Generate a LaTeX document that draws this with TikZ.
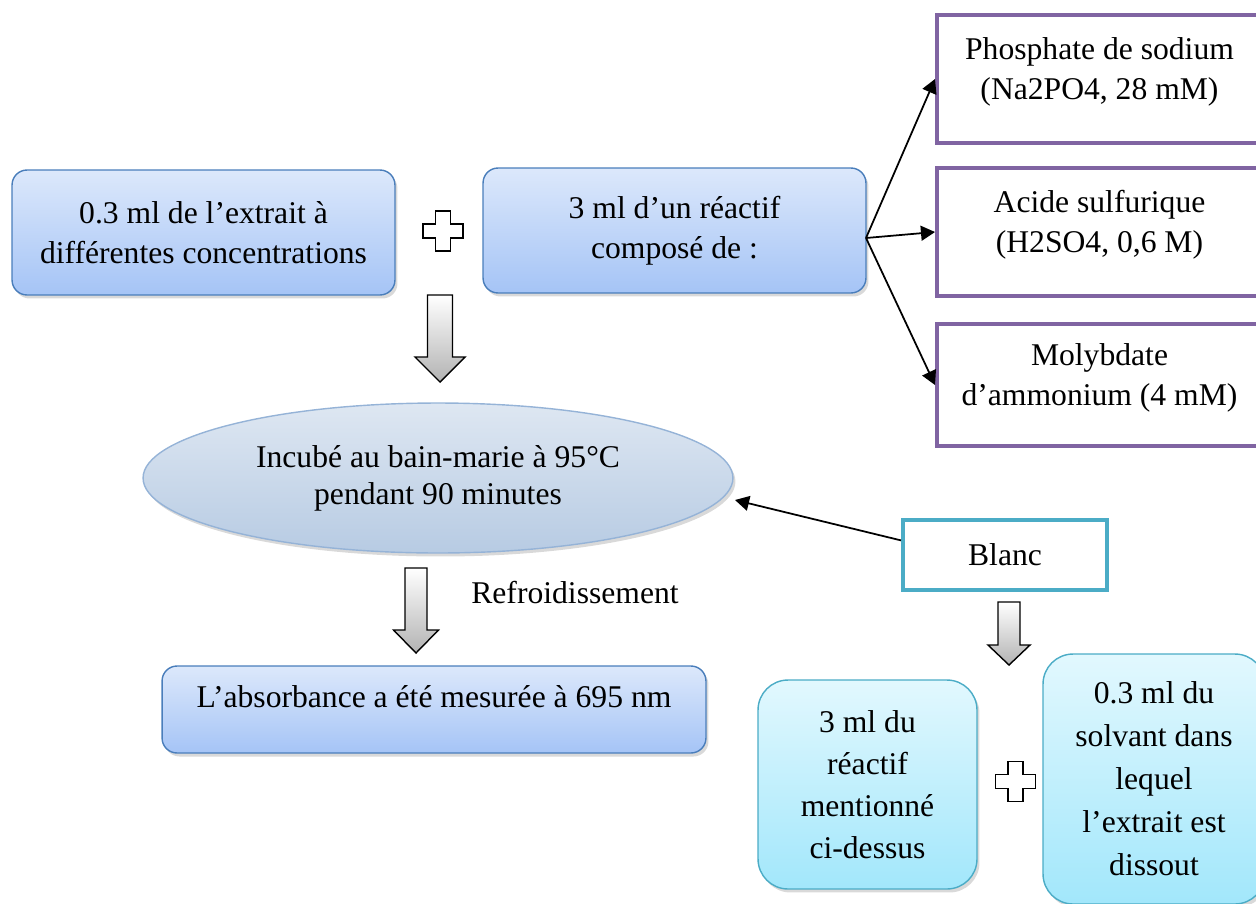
\documentclass[tikz,border=0pt]{standalone}
\usepackage{fontspec}
\setmainfont{Liberation Serif}
\usetikzlibrary{shapes.geometric,shadows,arrows.meta}
\definecolor{boxline}{HTML}{4A7EBB}
\definecolor{boxtop}{HTML}{DCE8FB}
\definecolor{boxbot}{HTML}{A5C4F6}
\definecolor{reactline}{HTML}{8064A2}
\definecolor{tealline}{HTML}{4BACC6}
\definecolor{cyantop}{HTML}{E2F8FE}
\definecolor{cyanbot}{HTML}{A2E7FB}
\definecolor{ovaltop}{HTML}{DEE7F2}
\definecolor{ovalbot}{HTML}{B7CBE3}
\definecolor{ovalline}{HTML}{95B3D7}
\tikzset{
  stepfont/.style={font=\fontsize{18}{23}\selectfont, align=center},
  softshadow/.style={drop shadow={shadow xshift=0.05cm, shadow yshift=-0.07cm, opacity=0.3}},
  bluebox/.style={stepfont, rectangle, rounded corners=0.3cm, draw=boxline, line width=0.8pt,
    top color=boxtop, bottom color=boxbot, softshadow},
  reactbox/.style={stepfont, rectangle, draw=reactline, line width=2.3pt, fill=white},
  tealbox/.style={stepfont, rectangle, draw=tealline, line width=2.3pt, fill=white},
  cyanbox/.style={stepfont, rectangle, rounded corners=0.6cm, draw=tealline, line width=0.8pt,
    top color=cyantop, bottom color=cyanbot, softshadow},
  ovalbox/.style={stepfont, ellipse, draw=ovalline, line width=0.8pt,
    top color=ovaltop, bottom color=ovalbot, softshadow},
  conn/.style={-{Triangle[length=8pt,width=8.5pt]}, line width=1pt},
}
\begin{document}
\begin{tikzpicture}[x=0.02cm,y=-0.02cm]
\useasboundingbox (0,0) rectangle (1256,903);
% first step
\node[bluebox, minimum width=7.66cm, minimum height=2.5cm] (extrait) at (203.5,232.5) {0.3 ml de l’extrait à\\différentes concentrations};
\node[bluebox, minimum width=7.66cm, minimum height=2.5cm] (reactif) at (674.5,230.5) {3 ml d’un réactif\\composé de :};
% reagent parts
\node[reactbox, minimum width=6.5cm, minimum height=2.56cm, text depth=12pt] (phos) at (1099.5,79) {Phosphate de sodium\\(Na2PO4, 28 mM)};
\node[reactbox, minimum width=6.5cm, minimum height=2.56cm, text depth=12pt] (acide) at (1099.5,232) {Acide sulfurique\\(H2SO4, 0,6 M)};
\node[reactbox, minimum width=6.5cm, minimum height=2.44cm, text depth=12pt] (molyb) at (1099.5,385) {Molybdate\\d’ammonium (4 mM)};
\coordinate (fork) at (866,238);
\draw[conn] (fork) -- (phos.west);
\draw[conn] (fork) -- (acide.west);
\draw[conn] (fork) -- (molyb.west);
% incubation and reading
\node[ovalbox, minimum width=11.8cm, minimum height=3cm, font=\fontsize{18}{21}\selectfont] (incub) at (438,478) {Incubé au bain-marie à 95°C\\pendant 90 minutes};
\node[stepfont, anchor=west, inner sep=0pt] (refroid) at (471,593) {Refroidissement};
\node[bluebox, minimum width=10.88cm, minimum height=1.74cm, text depth=15pt] (absorb) at (434,709.5) {L’absorbance a été mesurée à 695 nm};
% blank
\node[tealbox, minimum width=4.08cm, minimum height=1.4cm] (blanc) at (1005,555) {Blanc};
\coordinate (blancend) at (735,500);
\draw[conn] (blanc.172) -- (blancend);
\node[cyanbox, minimum width=4.38cm, minimum height=4.18cm, font=\fontsize{18}{24}\selectfont] (reactifbis) at (867.5,784.5) {3 ml du\\réactif\\mentionné\\ci-dessus};
\node[cyanbox, minimum width=4.44cm, minimum height=5cm, font=\fontsize{18}{24.5}\selectfont] (solvant) at (1154,779) {0.3 ml du\\solvant dans\\lequel\\l’extrait est\\dissout};
% hollow arrows
\foreach \x/\t/\n/\e/\s/\h in {440/295/357/382/12.5/25, 416/568/630/653/11/22.5, 1009/602/645/665/11/21}
  \shade[top color=white, bottom color=gray!60, draw=black, line width=0.8pt]
    ({\x-\s},\t) -- ({\x+\s},\t) -- ({\x+\s},\n) -- ({\x+\h},\n) -- (\x,\e)
    -- ({\x-\h},\n) -- ({\x-\s},\n) -- cycle;
% plus signs
\foreach \cx/\cy in {443/231, 1015.5/781.5}
  \draw[fill=white, line width=0.8pt]
    ({\cx-7.5},{\cy-20}) -- ({\cx+7.5},{\cy-20}) -- ({\cx+7.5},{\cy-7}) -- ({\cx+20},{\cy-7})
    -- ({\cx+20},{\cy+7}) -- ({\cx+7.5},{\cy+7}) -- ({\cx+7.5},{\cy+20}) -- ({\cx-7.5},{\cy+20})
    -- ({\cx-7.5},{\cy+7}) -- ({\cx-20},{\cy+7}) -- ({\cx-20},{\cy-7}) -- ({\cx-7.5},{\cy-7}) -- cycle;
\end{tikzpicture}
\end{document}
